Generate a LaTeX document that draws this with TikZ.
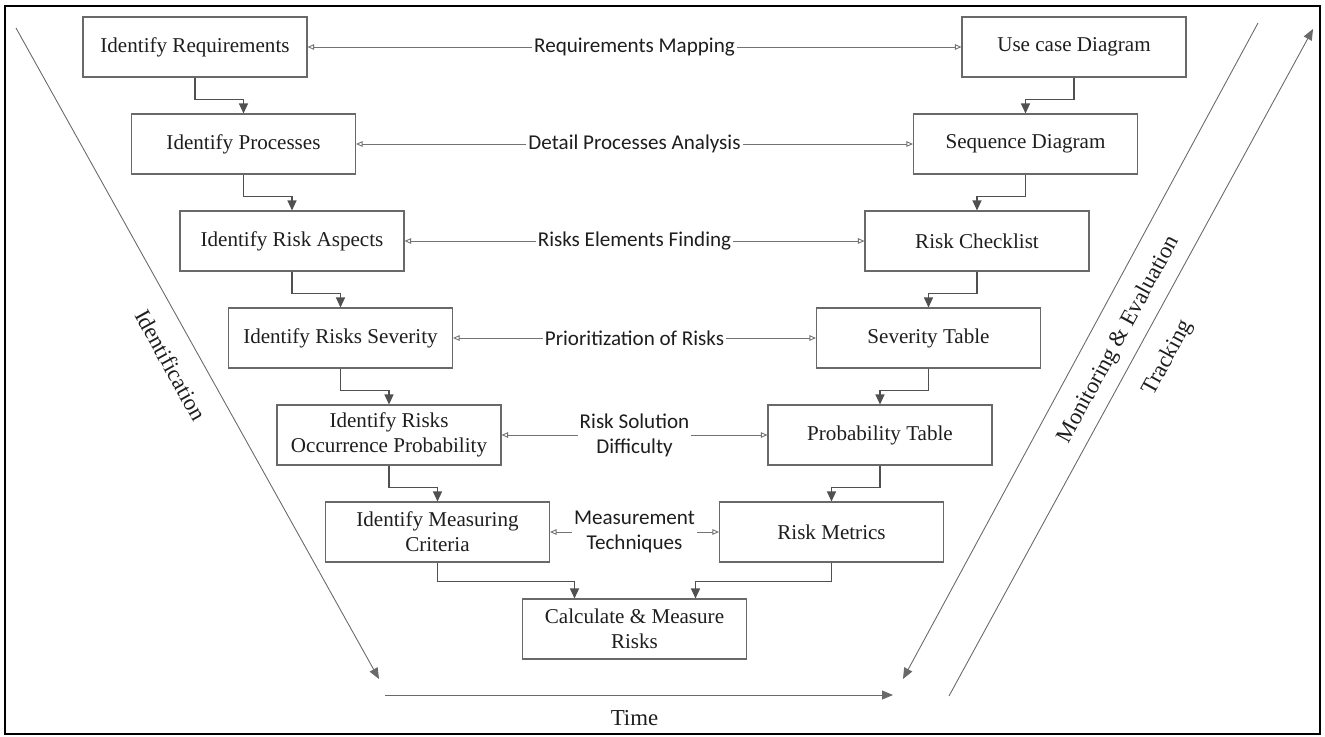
\documentclass[tikz,border=0pt]{standalone}
\usepackage{fontspec}
\setmainfont{Liberation Serif}
\newfontfamily\mapfont{Carlito}
\usepackage{tikz}
\usetikzlibrary{arrows.meta,calc}
\definecolor{boxline}{RGB}{105,105,105}
\definecolor{linkcol}{RGB}{80,80,80}
\definecolor{mapcol}{RGB}{115,115,115}
\definecolor{textcol}{RGB}{30,30,30}
\tikzset{
  stage/.style={draw=boxline,line width=.6pt,minimum width=44.8mm,minimum height=12mm,
                inner sep=2pt,align=center,text=textcol,font=\fontsize{12}{14.2}\selectfont},
  maplabel/.style={inner sep=1pt,align=center,text=textcol,
                   font=\mapfont\fontsize{12}{14.2}\selectfont},
  maplink/.style={-{Triangle[open,length=1.3mm,width=1.1mm]},draw=mapcol,line width=.5pt},
  flow/.style={-{Triangle[length=2mm,width=1.8mm]},draw=linkcol,line width=.6pt},
  phase/.style={-{Triangle[length=2.2mm,width=1.8mm]},draw=boxline,line width=.5pt},
  phaselabel/.style={inner sep=0pt,text=textcol,font=\fontsize{13}{15}\selectfont},
  frame/.style={draw=black,line width=1.6pt},
}

\begin{document}
\begin{tikzpicture}[x=0.2mm,y=-0.2mm]
  \useasboundingbox (0,0) rectangle (1325,737);
  \draw[frame] (5,6) rectangle (1320,734);
  % the two columns of the V, one row per step
  \foreach \lt/\rt/\mt [count=\i from 0] in {
      {Identify Requirements}/{Use case Diagram}/{Requirements Mapping},
      {Identify Processes}/{Sequence Diagram}/{Detail Processes Analysis},
      {Identify Risk Aspects}/{Risk Checklist}/{Risks Elements Finding},
      {Identify Risks Severity}/{Severity Table}/{Prioritization of Risks},
      {Identify Risks\\Occurrence Probability}/{Probability Table}/{Risk Solution\\Difficulty},
      {Identify Measuring\\Criteria}/{Risk Metrics}/{Measurement\\Techniques}}{
    \node[stage] (l\i) at ({195+48.5*\i},{47+97*\i}) {\lt};
    \node[stage] (r\i) at ({1074-48.5*\i},{47+97*\i}) {\rt};
    \node[maplabel] (m\i) at (634.5,{47+97*\i}) {\mt};
    \draw[maplink] (m\i) -- (l\i);
    \draw[maplink] (m\i) -- (r\i);
  }
  \node[stage] (calc) at (634.5,629) {Calculate \& Measure\\Risks};
  % step to step
  \foreach \i in {0,...,4}{
    \pgfmathtruncatemacro\j{\i+1}
    \draw[flow] (l\i.south) -- ++(0,22) -| (l\j.north);
    \draw[flow] (r\i.south) -- ++(0,22) -| (r\j.north);
  }
  \draw[flow] (l5.south) -- ++(0,19) -| ($(calc.north)+(-60,0)$);
  \draw[flow] (r5.south) -- ++(0,19) -| ($(calc.north)+(61,0)$);
  % phase axes
  \coordinate (idtop) at (16,28);
  \coordinate (idbot) at (379,679);
  \coordinate (metop) at (1258,23);
  \coordinate (mebot) at (903,679);
  \coordinate (trbot) at (949,696);
  \coordinate (trtop) at (1313,29);
  \coordinate (tleft) at (385,695);
  \coordinate (tright) at (893,695);
  \draw[phase] (idtop) -- (idbot);
  \draw[phase] (metop) -- (mebot);
  \draw[phase] (trbot) -- (trtop);
  \draw[phase] (tleft) -- (tright);
  \node[phaselabel,rotate=-61] (ident) at (171,365) {Identification};
  \node[phaselabel,rotate=61.5] (moneval) at (1119,340) {Monitoring \& Evaluation};
  \node[phaselabel,rotate=61.4] (track) at (1168,358) {Tracking};
  \node[phaselabel] (time) at (634.5,718) {Time};
\end{tikzpicture}
\end{document}
